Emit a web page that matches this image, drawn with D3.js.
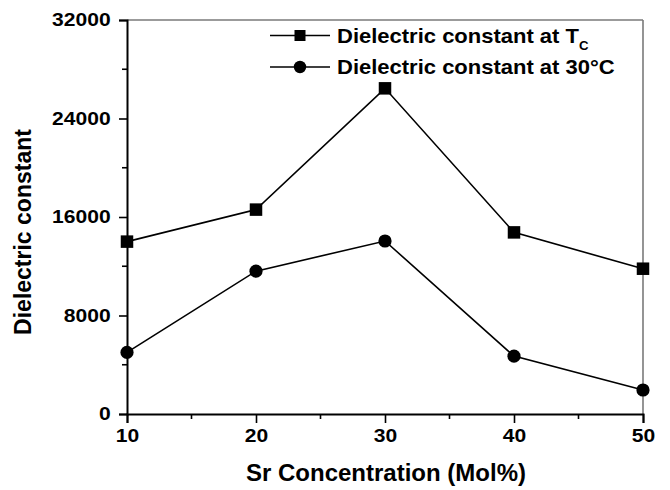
<!DOCTYPE html>
<html>
<head>
<meta charset="utf-8">
<script src="https://cdn.jsdelivr.net/npm/d3@7"></script>
<style>
  html, body { margin: 0; padding: 0; background: #fff; }
  svg { display: block; font-family: "Liberation Sans", Arial, sans-serif; font-weight: bold; }
</style>
</head>
<body>
<svg id="chart" width="670" height="490"></svg>
<script>
// Sr concentration (mol%) on the x axis
const srConcentration = [10, 20, 30, 40, 50];
// Dielectric constant at the Curie temperature
const dielectricAtTc = [14000, 16600, 26450, 14750, 11800];
// Dielectric constant at room temperature (30 °C)
const dielectricAt30C = [5000, 11600, 14050, 4700, 1950];

const xTickValues = [10, 20, 30, 40, 50];
const yTickValues = [0, 8000, 16000, 24000, 32000];

const svg = d3.select("#chart");
const margin = { left: 127, right: 27, top: 20, bottom: 76 };
const W = 670, H = 490;

const x = d3.scaleLinear().domain([10, 50]).range([margin.left, W - margin.right]);
const y = d3.scaleLinear().domain([0, 32000]).range([H - margin.bottom, margin.top]);

// Frame: gray top and right edges
svg.append("line").attr("x1", x(10)).attr("x2", x(50)).attr("y1", y(32000)).attr("y2", y(32000))
  .attr("stroke", "#7a7a7a").attr("stroke-width", 1.6);
svg.append("line").attr("x1", x(50)).attr("x2", x(50)).attr("y1", y(32000)).attr("y2", y(0))
  .attr("stroke", "#7a7a7a").attr("stroke-width", 1.6);

// Minor ticks (halfway between majors)
const xMinor = d3.range(15, 50, 10);
const yMinor = d3.range(4000, 32000, 8000);

const xAxis = d3.axisBottom(x).tickValues(xTickValues).tickFormat(d3.format("d")).tickSizeOuter(0).tickSize(9).tickPadding(6);
const yAxis = d3.axisLeft(y).tickValues(yTickValues).tickFormat(d3.format("d")).tickSizeOuter(0).tickSize(8).tickPadding(6);

const gx = svg.append("g").attr("transform", `translate(0,${y(0)})`).call(xAxis);
const gy = svg.append("g").attr("transform", `translate(${x(10)},0)`).call(yAxis);

[gx, gy].forEach(g => {
  g.select(".domain").attr("stroke", "#000").attr("stroke-width", 2);
  g.selectAll(".tick line").attr("stroke", "#000").attr("stroke-width", 1.6);
  g.selectAll(".tick text").attr("fill", "#000")
    .style("font-family", '"Liberation Sans", Arial, sans-serif')
    .style("font-weight", "bold").style("font-size", "18px");
});
gx.selectAll(".tick text").attr("transform", function () {
  return null;
}).each(function () {
  const t = d3.select(this);
  t.attr("dy", "0.71em");
});
// horizontally widen tick labels a bit
gx.selectAll(".tick text").attr("transform", "scale(1.17,1)");
gy.selectAll(".tick text").attr("transform", function () {
  return "translate(-14,0) scale(1.17,1) translate(12,0)";
});

gx.selectAll(".minor").data(xMinor).enter().append("line")
  .attr("x1", d => x(d)).attr("x2", d => x(d)).attr("y1", 0).attr("y2", 5)
  .attr("stroke", "#000").attr("stroke-width", 1.6);
gy.selectAll(".minor").data(yMinor).enter().append("line")
  .attr("y1", d => y(d)).attr("y2", d => y(d)).attr("x1", 0).attr("x2", -5)
  .attr("stroke", "#000").attr("stroke-width", 1.6);

// Axis titles
svg.append("text").attr("x", (x(10) + x(50)) / 2 + 1).attr("y", 481)
  .attr("text-anchor", "middle").style("font-size", "24px").attr("fill", "#000")
  .text("Sr Concentration (Mol%)");
svg.append("text").attr("transform", `translate(31,${(y(0) + y(32000)) / 2 + 15}) rotate(-90)`)
  .attr("text-anchor", "middle").style("font-size", "23px").attr("fill", "#000")
  .text("Dielectric constant");

// Series
const line = d3.line().x(d => x(d[0])).y(d => y(d[1]));
const tcPts = srConcentration.map((c, i) => [c, dielectricAtTc[i]]);
const rtPts = srConcentration.map((c, i) => [c, dielectricAt30C[i]]);

svg.append("path").datum(tcPts).attr("d", line).attr("fill", "none").attr("stroke", "#000").attr("stroke-width", 1.6);
svg.append("path").datum(rtPts).attr("d", line).attr("fill", "none").attr("stroke", "#000").attr("stroke-width", 1.6);

const sq = 12.5;
svg.selectAll(".sq").data(tcPts).enter().append("rect")
  .attr("x", d => x(d[0]) - sq / 2).attr("y", d => y(d[1]) - sq / 2)
  .attr("width", sq).attr("height", sq).attr("fill", "#000");
svg.selectAll(".ci").data(rtPts).enter().append("circle")
  .attr("cx", d => x(d[0])).attr("cy", d => y(d[1])).attr("r", 6.6).attr("fill", "#000");

// Legend
const legend = svg.append("g");
const lx1 = 270, lx2 = 330, lmid = 300;
const row1 = 35.5, row2 = 67;
legend.append("line").attr("x1", lx1).attr("x2", lx2).attr("y1", row1).attr("y2", row1).attr("stroke", "#000").attr("stroke-width", 1.6);
legend.append("rect").attr("x", lmid - 5.5).attr("y", row1 - 5.5).attr("width", 11).attr("height", 11).attr("fill", "#000");
legend.append("line").attr("x1", lx1).attr("x2", lx2).attr("y1", row2).attr("y2", row2).attr("stroke", "#000").attr("stroke-width", 1.6);
legend.append("circle").attr("cx", lmid).attr("cy", row2).attr("r", 6.2).attr("fill", "#000");

const t1 = legend.append("text").attr("transform", `translate(337,${row1 + 7}) scale(1.1,1)`)
  .style("font-size", "20px").attr("fill", "#000");
t1.append("tspan").text("Dielectric constant at T");
t1.append("tspan").attr("dy", 7).style("font-size", "12px").text("C");
legend.append("text").attr("transform", `translate(337,${row2 + 7}) scale(1.1,1)`)
  .style("font-size", "20px").attr("fill", "#000").text("Dielectric constant at 30°C");
</script>
</body>
</html>
